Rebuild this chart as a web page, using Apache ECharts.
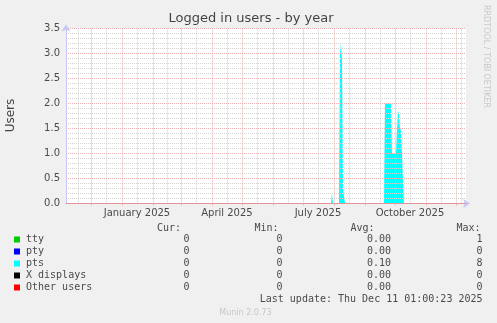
<!DOCTYPE html>
<html><head><meta charset="utf-8">
<script src="https://cdn.jsdelivr.net/npm/echarts@6/dist/echarts.min.js"></script>
<style>html,body{margin:0;padding:0;background:#f0f0f0}#c{width:497px;height:323px}</style>
</head><body><div id="c"></div>
<script>
// ---- data ----
const ptsDates = ['2024-11-06','2025-07-29','2025-07-30','2025-07-31','2025-08-06','2025-08-07','2025-08-08','2025-08-09','2025-08-10','2025-08-11','2025-08-12','2025-09-20','2025-09-21','2025-09-27','2025-09-28','2025-10-02','2025-10-03','2025-10-04','2025-10-05','2025-10-06','2025-10-07','2025-10-08','2025-10-09','2025-10-10','2025-12-11'];
const ptsValues = [0,0,0.2,0,0,3.0,3.2,2.9,0.3,0.28,0,0,2,2,1,1,1.45,1.85,1.8,1.5,1.45,1,1,0,0];
const monthNames = ['January','February','March','April','May','June','July','August','September','October','November','December'];
const labelMonths = [0,3,6,9];
const legendNames = ['tty','pty','pts','X displays','Other users'];
const legendColors = ['#00CC00','#0000FF','#00FFFF','#000000','#FF0000'];
const curValues = ['0','0','0','0','0'];
const minValues = ['0','0','0','0','0'];
const avgValues = ['0.00','0.00','0.10','0.00','0.00'];
const maxValues = ['1','0','8','0','0'];
const colHeaders = ['Cur:','Min:','Avg:','Max:'];
const titleText = 'Logged in users - by year';
const yName = 'Users';
const lastUpdate = 'Last update: Thu Dec 11 01:00:23 2025';
const footer = 'Munin 2.0.73';
const watermark = 'RRDTOOL / TOBI OETIKER';

const xMin = new Date(2024,10,6,1,0,0).getTime();
const xMax = new Date(2025,11,11,1,0,0).getTime();
const DAY = 864e5;

const chart = echarts.init(document.getElementById('c'), null, {renderer:'canvas'});
const mono = 'DejaVu Sans Mono';
const textCol = '#4a4a4a';
const graphics = [];
graphics.push({type:'text', x:251, y:19, style:{text:titleText, font:'13px "DejaVu Sans"', fill:'#444', align:'center', verticalAlign:'middle'}});
graphics.push({type:'text', x:11, y:115.5, rotation:Math.PI/2, style:{text:yName, font:'12px "DejaVu Sans"', fill:'#444', align:'center', verticalAlign:'middle'}});
graphics.push({type:'text', x:486, y:5, rotation:-Math.PI/2, style:{text:watermark, font:'8px "DejaVu Sans"', fill:'#c8c8c8', align:'left', verticalAlign:'middle'}});
const headerRight = [181, 278.5, 374.5, 480.5];
colHeaders.forEach((h,i)=>graphics.push({type:'text', x:headerRight[i], y:228, style:{text:h, font:'10px '+mono, fill:textCol, align:'right', verticalAlign:'middle'}}));
const colRight = [189.5, 282.5, 391, 482.5];
const cols = [curValues, minValues, avgValues, maxValues];
legendNames.forEach((n,i)=>{
  const y = 239.5 + i*12;
  graphics.push({type:'rect', shape:{x:14, y:y-3, width:6, height:6}, style:{fill:legendColors[i]}});
  graphics.push({type:'text', x:26, y:y, style:{text:n, font:'10px '+mono, fill:textCol, align:'left', verticalAlign:'middle'}});
  cols.forEach((c,j)=>graphics.push({type:'text', x:colRight[j], y:y, style:{text:c[i], font:'10px '+mono, fill:textCol, align:'right', verticalAlign:'middle'}}));
});
graphics.push({type:'text', x:482.5, y:299.5, style:{text:lastUpdate, font:'10px '+mono, fill:textCol, align:'right', verticalAlign:'middle'}});
graphics.push({type:'text', x:245.5, y:312.5, style:{text:footer, font:'8px "DejaVu Sans"', fill:'#c8c8c8', align:'center', verticalAlign:'middle'}});

const redGrid = '#eab0b0';
const grayGrid = '#d2d2d2';
chart.setOption({
  backgroundColor:'#f0f0f0',
  animation:false,
  grid:{left:66, right:31, top:28.5, bottom:119.5, show:true, backgroundColor:'#ffffff', borderWidth:0, z:-2},
  xAxis:[{
    type:'time', min:xMin, max:xMax, position:'bottom', z:0,
    axisLine:{show:true, lineStyle:{color:'#c8c8f4', width:1}, symbol:['none','arrow'], symbolSize:[7,7], symbolOffset:[0,4]},
    axisTick:{show:false}, axisLabel:{show:false}, splitLine:{show:false}
  },{
    type:'time', min:xMin, max:xMax, position:'bottom', z:1,
    splitNumber:13, minInterval:28*DAY, maxInterval:31*DAY,
    axisLine:{show:true, lineStyle:{color:'#e49494', width:1}},
    axisTick:{show:true, length:2, lineStyle:{color:redGrid}},
    axisLabel:{show:true, margin:5, fontFamily:'DejaVu Sans', fontSize:10, color:textCol, padding:[0,0,0,30],
      formatter:function(v){const d=new Date(v); if(d.getDate()===1 && labelMonths.indexOf(d.getMonth())>=0) return monthNames[d.getMonth()]+' '+d.getFullYear(); return '';}},
    splitLine:{show:true, showMinLine:false, showMaxLine:false, lineStyle:{color:redGrid, type:[1,1], width:1}},
    minorTick:{show:false, splitNumber:2},
    minorSplitLine:{show:true, lineStyle:{color:grayGrid, type:[1,1], width:1}}
  }],
  yAxis:{
    type:'value', min:0, max:3.5, interval:0.5, z:0,
    axisLine:{show:true, lineStyle:{color:'#c8c8f4'}, symbol:['none','arrow'], symbolSize:[7,7], symbolOffset:[0,4]},
    axisTick:{show:false},
    axisLabel:{fontFamily:'DejaVu Sans', fontSize:10, color:textCol, margin:6, formatter:v=>v.toFixed(1)},
    splitLine:{show:true, lineStyle:{color:redGrid, type:[1,1]}},
    minorTick:{show:false, splitNumber:5},
    minorSplitLine:{show:true, lineStyle:{color:grayGrid, type:[1,1]}}
  },
  series:[{
    name:'pts', type:'line', xAxisIndex:1, z:-1, showSymbol:false, silent:true,
    lineStyle:{width:0}, areaStyle:{color:'#00ffff', opacity:1},
    data: ptsDates.map((d,i)=>[d, ptsValues[i]])
  }],
  graphic: graphics
});
</script></body></html>
